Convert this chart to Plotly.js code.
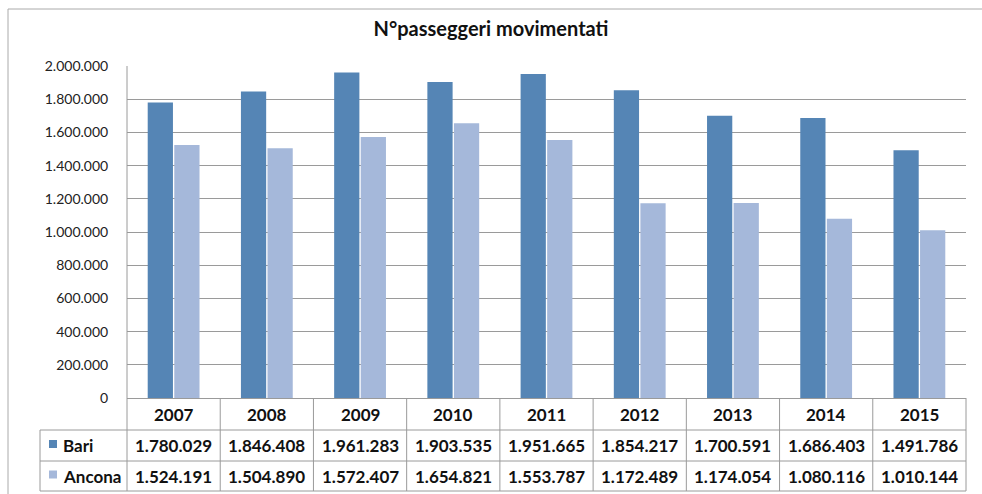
<!DOCTYPE html>
<html>
<head>
<meta charset="utf-8">
<script src="https://cdn.plot.ly/plotly-3.0.1.min.js"></script>
<style>html,body{margin:0;padding:0;background:#fff;}#chart{width:982px;height:494px;}</style>
</head>
<body>
<div id="chart"></div>
<script>
var years = ["2007","2008","2009","2010","2011","2012","2013","2014","2015"];
var bari = [1780029, 1846408, 1961283, 1903535, 1951665, 1854217, 1700591, 1686403, 1491786];
var ancona = [1524191, 1504890, 1572407, 1654821, 1553787, 1172489, 1174054, 1080116, 1010144];
var seriesNames = ["Bari", "Ancona"];
var colors = ["#5585B5", "#A5B8DA"];

var W = 982, H = 494, L = 127, R = 16, T = 66, B = 96;
var PW = W - L - R, PH = H - T - B;
function px(x) { return (x - L) / PW; }
function py(y) { return (H - B - y) / PH; }
function fmt(v) { return String(v).replace(/\B(?=(\d{3})+(?!\d))/g, "."); }

var FONT = "Lato, 'Open Sans', sans-serif";
var lineCol = "#9a9a9a";

var traces = [
  {type: "bar", name: seriesNames[0], x: years, y: bari, marker: {color: colors[0]}, hoverinfo: "skip"},
  {type: "bar", name: seriesNames[1], x: years, y: ancona, marker: {color: colors[1]}, hoverinfo: "skip"}
];

var shapes = [];
var ann = [];
// outer frame
shapes.push({type: "line", xref: "paper", yref: "paper", x0: px(8), x1: px(8), y0: py(9), y1: py(500), line: {color: "#aaaaaa", width: 1}});
shapes.push({type: "line", xref: "paper", yref: "paper", x0: px(8), x1: px(990), y0: py(9), y1: py(9), line: {color: "#aaaaaa", width: 1}});
// plot left axis line
shapes.push({type: "line", xref: "paper", yref: "paper", x0: 0, x1: 0, y0: 1, y1: py(491), line: {color: lineCol, width: 1}});
// table horizontal lines
[430, 461, 491].forEach(function (yy) {
  shapes.push({type: "line", xref: "paper", yref: "paper", x0: px(40), x1: 1, y0: py(yy), y1: py(yy), line: {color: lineCol, width: 1}});
});
// left border of legend column
shapes.push({type: "line", xref: "paper", yref: "paper", x0: px(40), x1: px(40), y0: py(430), y1: py(491), line: {color: lineCol, width: 1}});
// vertical category separators
var n = years.length;
for (var i = 0; i < n; i++) {
  var xp = (i + 1) / n;
  shapes.push({type: "line", xref: "paper", yref: "paper", x0: xp, x1: xp, y0: 0, y1: py(491), line: {color: lineCol, width: 1}});
}
// header labels and values
var rowsY = [445.5, 476];
var vals = [bari, ancona];
var tf = {family: FONT, size: 17, color: "#111", weight: "bold"};
years.forEach(function (yr, i) {
  var xc = (i + 0.5) / n;
  ann.push({xref: "paper", yref: "paper", x: xc, y: py(414), text: yr, showarrow: false, xanchor: "center", yanchor: "middle", font: tf});
  for (var s = 0; s < 2; s++) {
    ann.push({xref: "paper", yref: "paper", x: xc, y: py(rowsY[s]), text: fmt(vals[s][i]), showarrow: false, xanchor: "center", yanchor: "middle", font: tf});
  }
});
// legend keys
for (var s = 0; s < 2; s++) {
  var cy = rowsY[s] - 1.5;
  shapes.push({type: "rect", xref: "paper", yref: "paper", x0: px(49), x1: px(57), y0: py(cy - 4), y1: py(cy + 4), fillcolor: colors[s], line: {width: 0}});
  ann.push({xref: "paper", yref: "paper", x: px(61), y: py(rowsY[s]), text: seriesNames[s], showarrow: false, xanchor: "left", yanchor: "middle", font: tf});
}

var layout = {
  width: W, height: H,
  margin: {l: L, r: R, t: T, b: B, pad: 0},
  paper_bgcolor: "#fff", plot_bgcolor: "#fff",
  separators: ",.",
  showlegend: false,
  barmode: "group", bargap: 0.43, bargroupgap: 0.05,
  title: {text: "N°passeggeri movimentati", x: 0.5, xref: "container", xanchor: "center", y: 1 - 29 / H, yanchor: "middle", font: {family: FONT, size: 20, color: "#111", weight: "bold"}},
  font: {family: FONT, color: "#222"},
  xaxis: {type: "category", range: [-0.5, n - 0.5], showticklabels: false, showgrid: false, zeroline: false, showline: false, ticks: ""},
  yaxis: {range: [0, 2000000], dtick: 200000, tickformat: ",d", showgrid: true, gridcolor: lineCol, gridwidth: 1, zeroline: true, zerolinecolor: lineCol, zerolinewidth: 1, showline: false, ticks: "outside", ticklen: 15, tickcolor: "rgba(0,0,0,0)", tickfont: {family: FONT, size: 14, color: "#222"}},
  shapes: shapes,
  annotations: ann
};

Plotly.newPlot("chart", traces, layout, {staticPlot: true, displayModeBar: false});
</script>
</body>
</html>
